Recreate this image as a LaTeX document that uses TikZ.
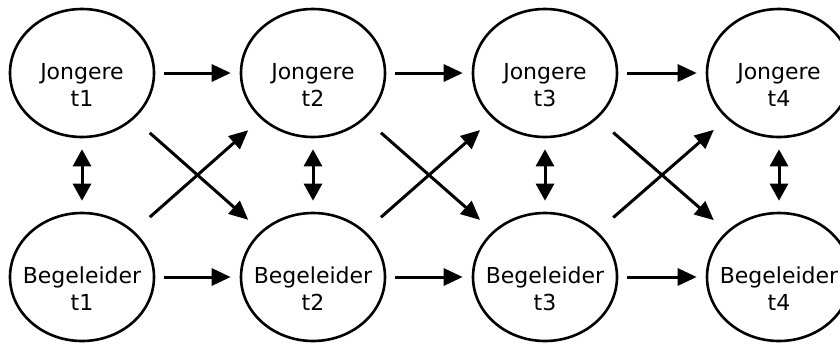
\documentclass[tikz,border=0pt]{standalone}
\usepackage{fontspec}
\setmainfont{DejaVu Sans}
\usetikzlibrary{shapes.geometric,arrows.meta}
\begin{document}
\begin{tikzpicture}[x=0.5pt,y=-0.5pt,
  state/.style={draw,ellipse,line width=1.3pt,minimum width=72pt,minimum height=64pt,inner sep=0pt},
  lbl/.style={align=center,inner sep=0pt,font=\fontsize{11}{13.5}\selectfont},
  conn/.style={line width=1.5pt,-{Triangle[length=9.5pt,width=8.5pt]}},
  both/.style={line width=1.5pt,{Triangle[length=8.5pt,width=9pt]}-{Triangle[length=8.5pt,width=9pt]},shorten <=5.5pt,shorten >=5.5pt},
  horiz/.style={conn,shorten <=4.5pt,shorten >=4.5pt},
  diag/.style={conn,shorten <=10.5pt,shorten >=8.5pt}]
\clip (0,0) rectangle (840,343);
\foreach \i/\x in {1/82,2/313,3/545,4/779}{
  \node[state] (j\i) at (\x,73) {};
  \node[lbl] (jl\i) at ([yshift=-6pt]j\i.center) {Jongere\\t\i};
  \node[state] (b\i) at (\x,277) {};
  \node[lbl] (bl\i) at ([yshift=-6pt]b\i.center) {Begeleider\\t\i};
  \draw[both] (j\i) -- (b\i);
}
\foreach \i/\k in {1/2,2/3,3/4}{
  \draw[horiz] (j\i) -- (j\k);
  \draw[horiz] (b\i) -- (b\k);
  \draw[diag] (j\i) -- (b\k);
  \draw[diag] (b\i) -- (j\k);
}
\end{tikzpicture}
\end{document}
